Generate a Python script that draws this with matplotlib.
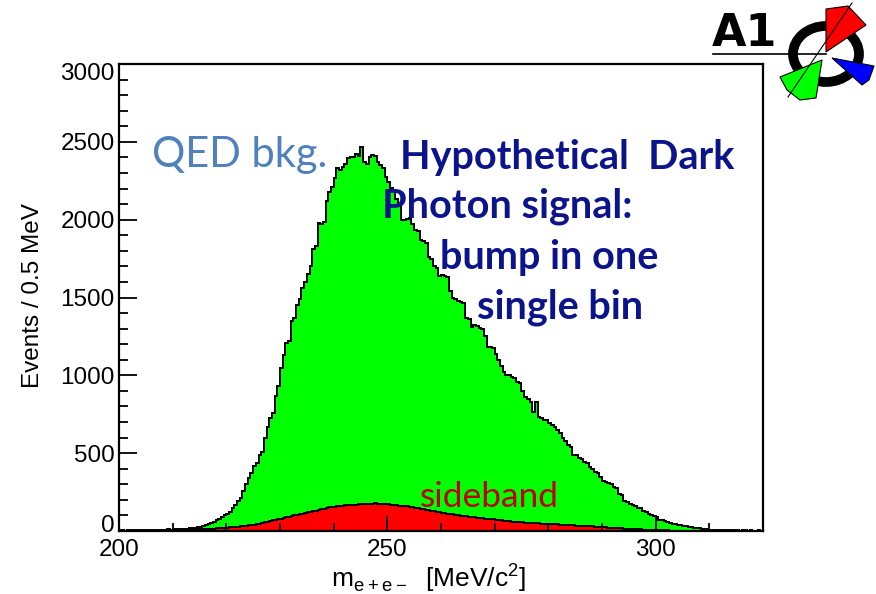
import numpy as np
import matplotlib
matplotlib.use("Agg")
import matplotlib.pyplot as plt
from matplotlib.patches import Ellipse, Polygon
from matplotlib.ticker import MultipleLocator
from matplotlib.transforms import ScaledTranslation

# invariant mass histogram, 0.5 MeV bins from 200 to 320 MeV
bin_lo, bin_hi, bin_w = 200.0, 320.0, 0.5

# QED background (all events)
qed_counts = [
    4, 5, 3, 6, 4, 5, 6, 4, 5, 7,
    6, 5, 7, 8, 6, 7, 9, 8, 10, 9,
    11, 10, 13, 12, 15, 14, 17, 19, 22, 24,
    26, 30, 36, 42, 50, 58, 68, 78, 88, 100,
    112, 120, 150, 170, 195, 215, 260, 305, 340, 372,
    420, 440, 490, 505, 600, 670, 725, 760, 870, 930,
    1050, 1130, 1210, 1220, 1350, 1370, 1450, 1490, 1560, 1600,
    1650, 1700, 1810, 1830, 1980, 1975, 1985, 2120, 2180, 2210,
    2270, 2330, 2320, 2340, 2355, 2395, 2405, 2400, 2420, 2410,
    2465, 2370, 2360, 2400, 2415, 2410, 2370, 2350, 2335, 2275,
    2245, 2205, 2190, 2130, 2100, 2000, 1995, 2005, 2010, 1975,
    1935, 1930, 1870, 1860, 1850, 1760, 1750, 1700, 1690, 1640,
    1645, 1635, 1630, 1540, 1500, 1490, 1480, 1470, 1465, 1370,
    1360, 1310, 1325, 1320, 1305, 1300, 1250, 1185, 1180, 1175,
    1140, 1100, 1060, 1020, 1005, 1000, 990, 985, 960, 950,
    900, 860, 850, 830, 765, 830, 735, 725, 715, 710,
    695, 680, 670, 650, 630, 600, 575, 555, 540, 490,
    488, 470, 465, 445, 440, 410, 400, 380, 370, 347,
    320, 315, 310, 305, 280, 275, 240, 230, 195, 186,
    175, 167, 160, 150, 148, 130, 122, 110, 103, 95,
    90, 72, 68, 62, 55, 51, 48, 44, 40, 38,
    32, 30, 26, 25, 22, 20, 19, 15, 12, 9,
    8, 6, 7, 5, 6, 4, 5, 6, 4, 5,
    4, 3, 5, 4, 3, 4, 3, 2, 4, 3,
]

# sideband events
sideband_counts = [
    0, 0, 0, 1, 0, 1, 1, 0, 1, 1,
    1, 1, 2, 1, 2, 2, 2, 3, 3, 3,
    4, 4, 5, 5, 6, 7, 8, 8, 9, 10,
    11, 12, 13, 14, 15, 16, 17, 18, 20, 21,
    22, 23, 25, 26, 28, 30, 32, 34, 36, 38,
    40, 44, 47, 52, 55, 60, 63, 68, 72, 75,
    80, 83, 88, 91, 96, 100, 103, 108, 111, 116,
    120, 123, 128, 131, 136, 139, 144, 147, 151, 154,
    156, 158, 160, 161, 164, 165, 167, 168, 169, 171,
    172, 173, 173, 176, 175, 177, 176, 174, 174, 173,
    171, 170, 167, 166, 163, 162, 159, 158, 154, 152,
    150, 146, 142, 139, 136, 133, 130, 127, 124, 121,
    118, 115, 112, 110, 107, 104, 102, 99, 97, 95,
    92, 90, 88, 86, 84, 82, 80, 78, 76, 74,
    72, 70, 68, 66, 64, 62, 60, 58, 57, 56,
    55, 54, 53, 52, 51, 50, 49, 48, 47, 46,
    45, 44, 43, 42, 41, 40, 39, 38, 37, 36,
    35, 34, 33, 32, 31, 30, 29, 28, 27, 26,
    25, 24, 22, 21, 20, 19, 18, 17, 16, 15,
    14, 13, 12, 11, 10, 9, 9, 8, 7, 6,
    6, 5, 5, 4, 4, 3, 3, 3, 2, 2,
    2, 2, 1, 1, 1, 1, 1, 0, 1, 0,
    0, 0, 0, 0, 0, 0, 0, 0, 0, 0,
    0, 0, 0, 0, 0, 0, 0, 0, 0, 0,
]

x_ticks = [200, 250, 300]
y_ticks = [0, 500, 1000, 1500, 2000, 2500, 3000]

edges = np.arange(bin_lo, bin_hi + bin_w / 2, bin_w)

plt.rcParams['font.family'] = ['Liberation Sans', 'DejaVu Sans']
W, H = 876, 594
fig = plt.figure(figsize=(W / 100, H / 100), dpi=100)
ax = fig.add_axes([119 / W, 1 - 531 / H, (763 - 119) / W, (531 - 64) / H])

ax.stairs(qed_counts, edges, fill=True, facecolor='#00ff00', edgecolor='none')
ax.stairs(qed_counts, edges, color='black', linewidth=1.4)
ax.stairs(sideband_counts, edges, fill=True, facecolor='#ff0000', edgecolor='none')
ax.stairs(sideband_counts, edges, color='black', linewidth=1.4)

ax.set_xlim(bin_lo, bin_hi)
ax.set_ylim(0, 3000)
ax.set_xticks(x_ticks)
ax.set_yticks(y_ticks)
ax.xaxis.set_minor_locator(MultipleLocator(10))
ax.yaxis.set_minor_locator(MultipleLocator(100))
ax.tick_params(axis='both', which='both', direction='in', top=False, right=False,
               labelsize=17.5, width=1.3)
ax.tick_params(axis='y', which='major', length=13, pad=3)
ax.tick_params(axis='y', which='minor', length=6.5)
ax.tick_params(axis='x', which='major', length=11, pad=6)
ax.tick_params(axis='x', which='minor', length=5.5)
for s in ax.spines.values():
    s.set_linewidth(1.6)

# nudge the end labels of the y axis the way ROOT places them
fig.canvas.draw()
ylabs = ax.get_yticklabels()
ylabs[0].set_transform(ylabs[0].get_transform() + ScaledTranslation(0, 8 / 100, fig.dpi_scale_trans))
ylabs[-1].set_transform(ylabs[-1].get_transform() + ScaledTranslation(0, -8 / 100, fig.dpi_scale_trans))

fig.text(33 / W, 1 - 296 / H, 'Events / 0.5 MeV', fontsize=17.5, rotation=90,
         ha='center', va='center')
fig.text(428 / W, 1 - 578 / H, r'm$_{\mathregular{e+e-}}$  [MeV/c$^{\mathregular{2}}$]',
         fontsize=19, ha='center', va='center')

# annotations
calib = ['Lato', 'DejaVu Sans']
fig.text(152 / W, 1 - 155 / H, 'QED bkg.', color='#4f81bd', fontsize=30,
         family=calib, ha='left', va='center')
navy = '#0c148c'
for txt, px, py in [('Hypothetical  Dark', 400, 158), ('Photon signal:', 382, 206),
                    ('bump in one', 440, 257), ('single bin', 477, 307)]:
    fig.text(px / W, 1 - py / H, txt, color=navy, fontsize=28.5, fontweight='bold',
             family=calib, ha='left', va='center')
fig.text(420 / W, 1 - 497 / H, 'sideband', color='#c00000', fontsize=25.5,
         family=calib, ha='left', va='center')

# A1 logo
lg = fig.add_axes([700 / W, 1 - 110 / H, 176 / W, 110 / H])
lg.set_xlim(700, 876)
lg.set_ylim(110, 0)
lg.axis('off')
lg.text(745, 33, 'A1', fontsize=32, fontweight='bold', ha='center', va='center',
        family='DejaVu Sans')
lg.plot([713, 826], [54, 54], color='black', lw=1.2)
lg.add_patch(Ellipse((826, 54), 66, 56, fill=False, lw=7, ec='black'))
lg.add_patch(Polygon([(826, 52), (826, 9), (848, 6), (866, 25)], closed=True,
                     fc='#ff0000', ec='black', lw=0.8))
lg.add_patch(Polygon([(832, 58), (874, 66), (869, 80), (862, 85)], closed=True,
                     fc='#0000ff', ec='black', lw=0.8))
lg.add_patch(Polygon([(822, 60), (780, 77), (787, 90), (800, 100), (816, 98)], closed=True,
                     fc='#00ff00', ec='black', lw=0.8))
lg.plot([852, 788], [3, 97], color='black', lw=0.8)

fig.savefig('out.png', dpi=100)
